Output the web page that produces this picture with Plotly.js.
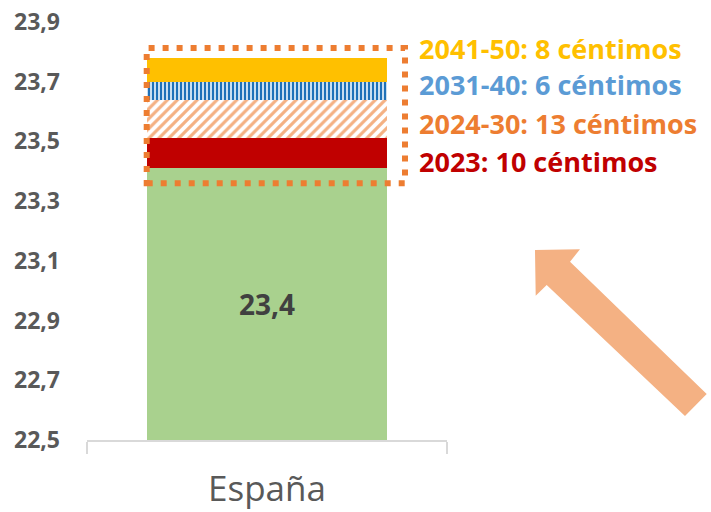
<!DOCTYPE html>
<html>
<head>
<meta charset="utf-8">
<script src="https://cdn.plot.ly/plotly-3.0.1.min.js"></script>
<style>html,body{margin:0;padding:0;background:#fff;}#chart{width:711px;height:512px;}</style>
</head>
<body>
<div id="chart"></div>
<script>
// ---- data ----
const categories = ["España"];
const baseValue = [23.41];          // current figure (label 23,4)
const seg2023 = [0.10];             // 2023: 10 céntimos
const seg2024_30 = [0.13];          // 2024-30: 13 céntimos
const seg2031_40 = [0.06];          // 2031-40: 6 céntimos
const seg2041_50 = [0.08];          // 2041-50: 8 céntimos
const segLabels = ["2041-50: 8 céntimos", "2031-40: 6 céntimos", "2024-30: 13 céntimos", "2023: 10 céntimos"];
const yRange = [22.5, 23.9];
const yTicks = [22.5, 22.7, 22.9, 23.1, 23.3, 23.5, 23.7, 23.9];

// ---- layout helpers (pixel -> paper) ----
const W = 711, H = 512, L = 87, R = 264, T = 22, B = 72;
const pw = W - L - R, ph = H - T - B;
const px = x => (x - L) / pw;
const py = y => (H - B - y) / ph;

const traces = [
  {type: 'bar', x: categories, y: baseValue, marker: {color: '#A9D18E', line: {width: 0}}, hoverinfo: 'skip'},
  {type: 'bar', x: categories, y: seg2023, marker: {color: '#C00000', line: {width: 0}}, hoverinfo: 'skip'},
  {type: 'bar', x: categories, y: seg2024_30, marker: {color: '#FFFFFF', line: {width: 0},
    pattern: {shape: '/', fgcolor: '#F4B183', bgcolor: '#FFFFFF', size: 7, solidity: 0.45}}, hoverinfo: 'skip'},
  {type: 'bar', x: categories, y: seg2031_40, marker: {color: '#FFFFFF', line: {width: 0},
    pattern: {shape: '|', fgcolor: '#1F71B8', bgcolor: '#DCEAF7', size: 4, solidity: 0.55}}, hoverinfo: 'skip'},
  {type: 'bar', x: categories, y: seg2041_50, marker: {color: '#FFC000', line: {width: 0}}, hoverinfo: 'skip'}
];

const arrowPts = [[535,250],[580,249.3],[570,261.7],[706.7,394],[685,416],[546.7,285],[535.7,295.7]];
const arrowPath = 'M ' + arrowPts.map(p => px(p[0]).toFixed(4) + ',' + py(p[1]).toFixed(4)).join(' L ') + ' Z';

const labelColors = ['#FFC000', '#5B9BD5', '#ED7D31', '#C00000'];
const labelY = [48, 84, 123, 161];

const annotations = [
  {x: categories[0], y: (yRange[0] + baseValue[0]) / 2, xref: 'x', yref: 'y',
   text: baseValue[0].toFixed(1).replace('.', ','), showarrow: false,
   font: {family: 'Open Sans', size: 28, color: '#404040', weight: 'bold'}}
].concat(segLabels.map((t, i) => ({
  x: px(417), y: py(labelY[i]), xref: 'paper', yref: 'paper', xanchor: 'left', yanchor: 'middle',
  text: '<b>' + t + '</b>', showarrow: false,
  font: {family: 'Open Sans', size: 27, color: labelColors[i]}
})));

const layout = {
  width: W, height: H,
  margin: {l: L, r: R, t: T, b: B, pad: 0},
  paper_bgcolor: '#fff', plot_bgcolor: '#fff',
  barmode: 'stack', bargap: 1/3,
  showlegend: false,
  separators: ',.',
  xaxis: {
    type: 'category', showgrid: false, zeroline: false,
    showline: true, linecolor: '#D9D9D9', linewidth: 1.5,
    ticks: 'outside', tickson: 'boundaries', ticklen: 12, tickcolor: '#D9D9D9', tickwidth: 1.5,
    tickfont: {family: 'Open Sans', size: 35, color: '#595959'},
    ticklabelstandoff: 17
  },
  yaxis: {
    range: yRange, tickvals: yTicks, tickformat: '.1f',
    showgrid: false, zeroline: false, showline: false, ticks: '',
    tickfont: {family: 'Open Sans', size: 23, color: '#595959', weight: 'bold'},
    ticklabelstandoff: 26
  },
  shapes: [
    {type: 'path', xref: 'paper', yref: 'paper', path: arrowPath,
     fillcolor: '#F4B183', line: {width: 0}, layer: 'above'},
    {type: 'rect', xref: 'paper', yref: 'paper',
     x0: px(146.7), x1: px(405), y0: py(183.3), y1: py(48),
     line: {color: '#ED7D31', width: 6, dash: '6px,8px'}, fillcolor: 'rgba(0,0,0,0)', layer: 'above'}
  ],
  annotations: annotations
};

Plotly.newPlot('chart', traces, layout, {staticPlot: true, displayModeBar: false});
</script>
</body>
</html>
